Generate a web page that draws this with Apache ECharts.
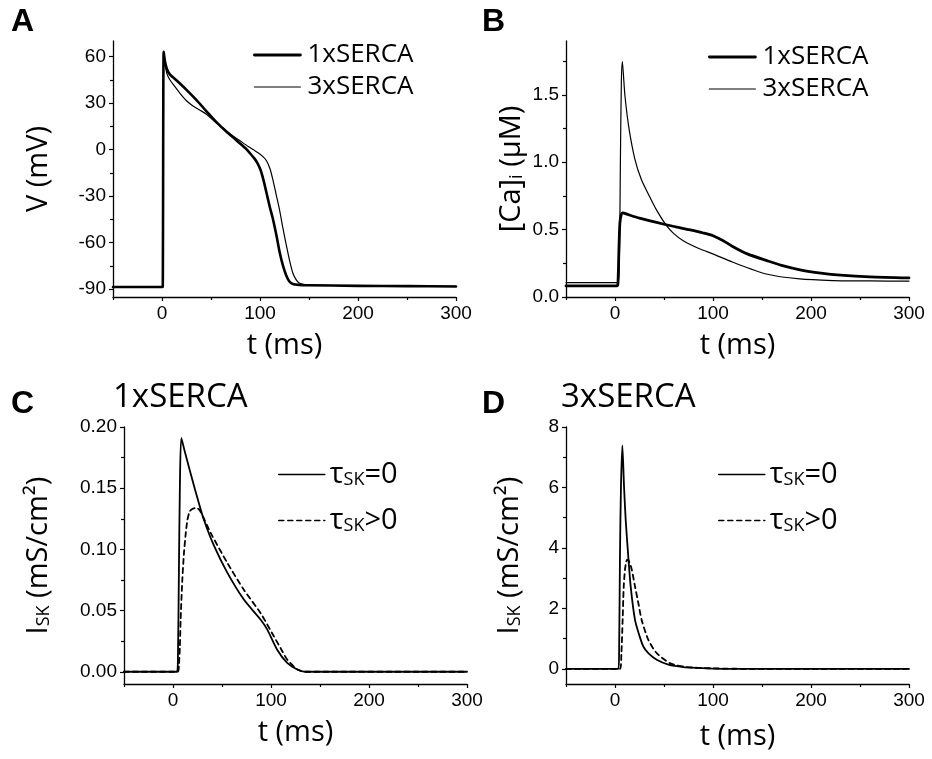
<!DOCTYPE html>
<html>
<head>
<meta charset="utf-8">
<script src="https://cdn.jsdelivr.net/npm/echarts@6/dist/echarts.min.js"></script>
<style>
  html, body { margin: 0; padding: 0; background: #fff; }
  #chart { width: 932px; height: 759px; }
</style>
</head>
<body>
<div id="chart"></div>
<script>
// ---- Panel A: membrane potential V (mV) vs t (ms) ----
const tA1 = [-50, 0, 0.8, 1.7, 3, 5, 8, 15, 25, 35, 45, 55, 65, 75, 85, 90, 94, 97.5, 100.5, 103.5, 106.5, 110, 113.3, 117, 120, 123.5, 127, 130, 133.5, 140, 147, 200, 250, 300];
const vA1 = [-88.6, -88.6, -88, 63, 57, 52, 48.5, 44.5, 38.5, 32, 25, 18, 12, 6.5, 1, -2.5, -5.5, -8.8, -13, -19.5, -27.5, -37, -45, -56, -66, -75, -81.5, -85, -86.6, -87.2, -87.4, -87.8, -88, -88.2];
const tA3 = [-50, 0, 0.8, 1.7, 3, 5, 8, 12, 18, 25, 32, 38.5, 45, 55, 65, 72.5, 80, 88, 93, 98, 103, 106.5, 110, 113, 116.5, 120, 123.5, 127, 130, 133.5, 137, 140, 145, 150, 200, 250, 300];
const vA3 = [-88.6, -88.6, -88, 63, 56, 49, 45, 41.5, 36.6, 31.5, 28, 25.5, 23, 17.5, 12.5, 8.8, 5.5, 2, 0, -2, -4.5, -7, -12, -19, -29, -39, -51, -62, -71, -79.5, -84, -86, -87, -87.3, -87.8, -88, -88.2];

// ---- Panel B: cytosolic calcium [Ca]i (uM) vs t (ms) ----
const tB1 = [-50, 2, 3, 4, 5, 6.5, 8, 12, 25, 50, 75, 90, 100, 110, 120, 135, 155, 170, 190, 210, 230, 260, 300];
const vB1 = [0.082, 0.082, 0.1, 0.35, 0.55, 0.615, 0.625, 0.615, 0.585, 0.54, 0.5, 0.475, 0.455, 0.42, 0.375, 0.32, 0.27, 0.235, 0.2, 0.178, 0.163, 0.15, 0.142];
const tB3 = [-50, 3, 4.5, 5.5, 6.5, 7.5, 8.5, 10.2, 14.3, 20.4, 27, 35, 42, 52.2, 60, 69.2, 86.2, 99.8, 120.2, 154.3, 188.4, 222.4, 260, 300];
const vB3 = [0.107, 0.107, 0.3, 1.0, 1.6, 1.748, 1.66, 1.49, 1.25, 1.02, 0.87, 0.75, 0.65, 0.533, 0.47, 0.42, 0.358, 0.32, 0.258, 0.171, 0.134, 0.122, 0.119, 0.118];

// ---- Panel C: I_SK, 1xSERCA ----
const tC0 = [-50, 4, 5, 6, 7, 8.5, 12, 16, 21.4, 26, 31.6, 41.8, 55.4, 72.3, 89.3, 96.1, 106.3, 116.5, 126.7, 135, 300];
const vC0 = [0, 0, 0.01, 0.08, 0.15, 0.191, 0.180, 0.168, 0.152, 0.139, 0.124, 0.103, 0.081, 0.059, 0.0427, 0.0346, 0.018, 0.0073, 0.0019, 0, 0];
const tCd = [-50, 5, 6, 7, 7.8, 9.5, 11.2, 13, 14.7, 17, 19.7, 24, 28, 38.4, 55.4, 72.3, 89.3, 102.9, 110, 116.5, 126.7, 135, 300];
const vCd = [0, 0, 0.005, 0.02, 0.043, 0.075, 0.097, 0.113, 0.124, 0.131, 0.133, 0.134, 0.131, 0.1135, 0.089, 0.067, 0.048, 0.029, 0.019, 0.010, 0.002, 0, 0];

// ---- Panel D: I_SK, 3xSERCA ----
const tD0 = [-50, 3.4, 4.2, 5.1, 6.1, 7.5, 9.2, 10.9, 13.3, 16, 20.4, 24.9, 28.9, 34, 42.6, 54.5, 69.8, 85, 100, 120, 300];
const vD0 = [0, 0, 0.6, 3.83, 6.04, 7.39, 6.04, 4.93, 3.83, 2.73, 1.62, 1.1, 0.74, 0.52, 0.30, 0.14, 0.06, 0.03, 0.01, 0, 0];
const tDd = [-50, 5, 6.5, 7.8, 8.9, 10.2, 11.5, 12.6, 14.5, 17, 20.4, 23.8, 27.2, 34, 42.6, 56, 73.3, 97, 120, 150, 300];
const vDd = [0, 0, 0.5, 1.62, 2.73, 3.28, 3.55, 3.61, 3.55, 3.3, 2.73, 2.18, 1.62, 0.96, 0.52, 0.19, 0.06, 0.02, 0.005, 0, 0];

// ---- Tick positions ----
const tMajor = [0, 100, 200, 300];
const tMinor = [-50, 50, 150, 250];
const vMajor = [-90, -60, -30, 0, 30, 60];
const vMinor = [-75, -45, -15, 15, 45];
const caMajor = [0, 0.5, 1.0, 1.5];
const caMinor = [0.25, 0.75, 1.25, 1.75];
const skCMajor = [0, 0.05, 0.10, 0.15, 0.20];
const skCMinor = [0.025, 0.075, 0.125, 0.175];
const skDMajor = [0, 2, 4, 6, 8];
const skDMinor = [1, 3, 5, 7];

// ---- Text ----
const legendSerca = ['1xSERCA', '3xSERCA'];
const legendTau = ['τSK=0', 'τSK>0'];
const sansNum = 'Liberation Sans';
const sansText = 'Open Sans';

const zip = (ts, vs) => ts.map((t, i) => [t, vs[i]]);

const grids = [
  { left: 113, top: 41, width: 343, height: 256 },
  { left: 566, top: 41, width: 343, height: 256 },
  { left: 124, top: 427, width: 343, height: 257 },
  { left: 566, top: 427, width: 343, height: 257 }
];

const axisColor = '#000';
const tickLabel = { color: '#000', fontFamily: sansNum, fontSize: 19 };
const nameStyle = { color: '#000', fontFamily: sansText, fontSize: 29,
  rich: {
    m: { fontFamily: sansText, fontSize: 29, color: '#000' },
    s: { fontFamily: sansText, fontSize: 18, color: '#000', verticalAlign: 'bottom' }
  }
};

function xAxes(g, nameGap) {
  return [
    {
      type: 'value', gridIndex: g, min: -50, max: 300, position: 'bottom',
      axisLine: { onZero: false, lineStyle: { color: axisColor, width: 1.3 } },
      axisTick: { customValues: tMajor, length: 4, lineStyle: { color: axisColor, width: 1.2 } },
      axisLabel: Object.assign({ customValues: tMajor, margin: 7 }, tickLabel),
      splitLine: { show: false },
      name: 't (ms)', nameLocation: 'middle', nameGap: nameGap, nameTextStyle: nameStyle
    },
    {
      // minor ticks only
      type: 'value', gridIndex: g, min: -50, max: 300, position: 'bottom',
      axisLine: { show: false, onZero: false },
      axisTick: { customValues: tMinor, length: 3, lineStyle: { color: axisColor, width: 1.2 } },
      axisLabel: { show: false },
      splitLine: { show: false }
    }
  ];
}

function yAxes(g, min, max, major, minor, fmt, name, nameGap) {
  return [
    {
      type: 'value', gridIndex: g, min: min, max: max, position: 'left',
      axisLine: { show: true, onZero: false, lineStyle: { color: axisColor, width: 1.3 } },
      axisTick: { show: true, customValues: major, length: 4, lineStyle: { color: axisColor, width: 1.2 } },
      axisLabel: Object.assign({ customValues: major, margin: 7, formatter: fmt }, tickLabel),
      splitLine: { show: false },
      name: name, nameLocation: 'middle', nameGap: nameGap, nameTextStyle: nameStyle
    },
    {
      // minor ticks only
      type: 'value', gridIndex: g, min: min, max: max, position: 'left',
      axisLine: { show: false, onZero: false },
      axisTick: { show: true, customValues: minor, length: 3, lineStyle: { color: axisColor, width: 1.2 } },
      axisLabel: { show: false },
      splitLine: { show: false }
    }
  ];
}

const xAxis = [].concat(xAxes(0, 34), xAxes(1, 34), xAxes(2, 34), xAxes(3, 38));
const yAxis = [].concat(
  yAxes(0, -95, 70, vMajor, vMinor, v => String(v), 'V (mV)', 60),
  yAxes(1, 0, 1.9, caMajor, caMinor, v => v.toFixed(1), '{m|[Ca]}{s|i}{m| (μM)}', 40),
  yAxes(2, -0.01, 0.20, skCMajor, skCMinor, v => v.toFixed(2), '{m|I}{s|SK}{m| (mS/cm²)}', 71),
  yAxes(3, -0.5, 8, skDMajor, skDMinor, v => String(v), '{m|I}{s|SK}{m| (mS/cm²)}', 42)
);

function line(name, g, data, width, dashed) {
  return {
    type: 'line', name: name, xAxisIndex: 2 * g, yAxisIndex: 2 * g,
    data: data, symbol: 'none', smooth: 0.25,
    lineStyle: { color: '#000', width: width, type: dashed ? [5, 4] : 'solid', join: 'round', cap: 'round' },
    itemStyle: { color: '#000' },
    animation: false
  };
}

const series = [
  line(legendSerca[0], 0, zip(tA1, vA1), 2.6, false),
  line(legendSerca[1], 0, zip(tA3, vA3), 1.2, false),
  line(legendSerca[0], 1, zip(tB1, vB1), 2.8, false),
  line(legendSerca[1], 1, zip(tB3, vB3), 1.2, false),
  line(legendTau[0], 2, zip(tC0, vC0), 1.8, false),
  line(legendTau[1], 2, zip(tCd, vCd), 1.8, true),
  line(legendTau[0], 3, zip(tD0, vD0), 1.8, false),
  line(legendTau[1], 3, zip(tDd, vDd), 1.8, true)
];

const legendText = { color: '#000', fontFamily: sansText, fontSize: 26, padding: [0, 0, 0, 2] };
const tauText = {
  color: '#000', fontFamily: sansText, fontSize: 29, padding: [0, 0, 0, 0],
  rich: {
    g: { fontFamily: sansText, fontSize: 29, color: '#000' },
    s: { fontFamily: sansText, fontSize: 18, color: '#000', verticalAlign: 'bottom' }
  }
};
const tauFmt = name => '{g|τ}{s|SK}{g|' + name.slice(3) + '}';

const sercaItems = [
  { name: legendSerca[0], lineStyle: { width: 2.8 } },
  { name: legendSerca[1], lineStyle: { width: 1.2 } }
];
const tauItems = [
  { name: legendTau[0], lineStyle: { width: 1.6 } },
  { name: legendTau[1], lineStyle: { width: 1.6 } }
];

function legend(left, top, data, gap, textStyle, fmt) {
  const l = {
    orient: 'vertical', left: left, top: top, data: data,
    itemWidth: 46, itemHeight: 14, itemGap: gap,
    selectedMode: false, textStyle: textStyle,
    itemStyle: { opacity: 0 }
  };
  if (fmt) l.formatter = fmt;
  return l;
}

const letter = (text, left, top) => ({
  text: text, left: left, top: top,
  textStyle: { fontFamily: sansNum, fontWeight: 'bold', fontSize: 32, color: '#000' }
});
const heading = (text, left, top) => ({
  text: text, left: left, top: top,
  textStyle: { fontFamily: sansText, fontWeight: 'normal', fontSize: 33, color: '#000' }
});

const option = {
  backgroundColor: '#fff',
  animation: false,
  title: [
    letter('A', 6, 1), letter('B', 477, 1), letter('C', 6, 383), letter('D', 477, 383),
    heading('1xSERCA', 108, 376), heading('3xSERCA', 556, 376)
  ],
  legend: [
    legend(248, 37, sercaItems, 6, legendText),
    legend(703, 39, sercaItems, 6, legendText),
    legend(273, 455, tauItems, 17, tauText, tauFmt),
    legend(713, 455, tauItems, 17, tauText, tauFmt)
  ],
  grid: grids,
  xAxis: xAxis,
  yAxis: yAxis,
  series: series
};

const chart = echarts.init(document.getElementById('chart'), null, { renderer: 'canvas' });
chart.setOption(option);
</script>
</body>
</html>
